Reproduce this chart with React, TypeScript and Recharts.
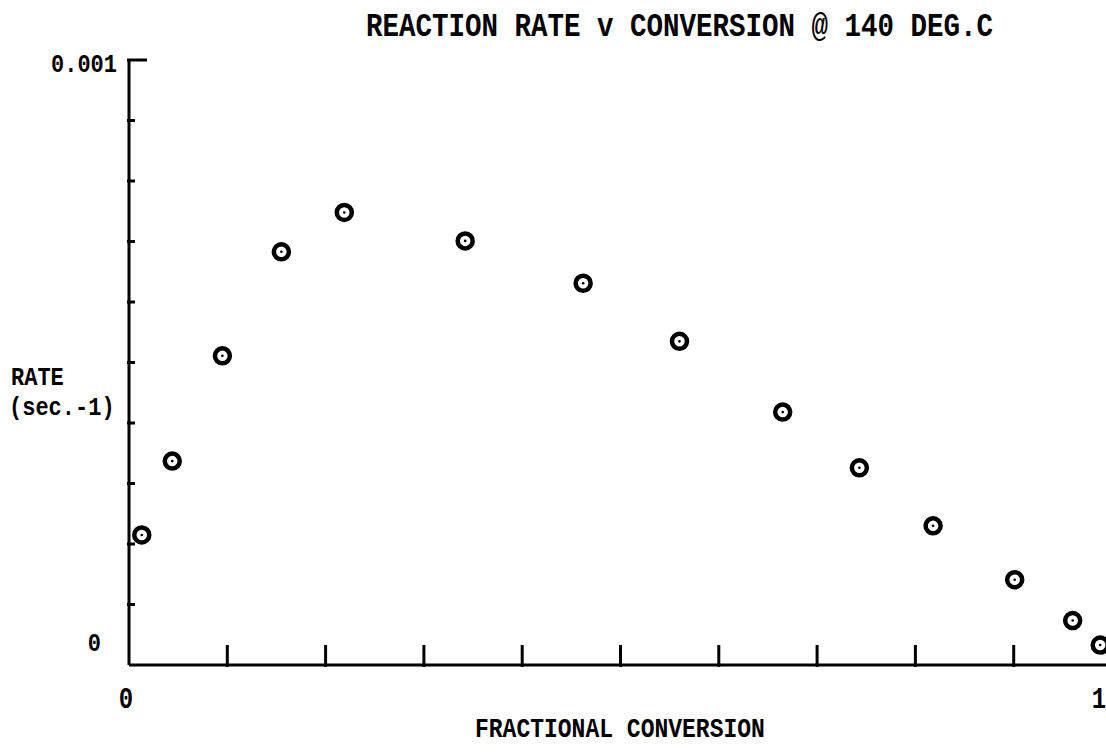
import { ScatterChart, Scatter, XAxis, YAxis } from "recharts";

const conversion = [0.013, 0.044, 0.095, 0.155, 0.219, 0.342, 0.462, 0.56, 0.665, 0.743, 0.818, 0.901, 0.960, 0.988];
const rate = [0.000215, 0.000337, 0.000511, 0.000683, 0.000748, 0.000701, 0.000631, 0.000535, 0.000418, 0.000326, 0.000230, 0.000141, 0.0000735, 0.000033];

const xTicks = [0, 0.1, 0.2, 0.3, 0.4, 0.5, 0.6, 0.7, 0.8, 0.9, 1];
const yTicks = [0, 0.0001, 0.0002, 0.0003, 0.0004, 0.0005, 0.0006, 0.0007, 0.0008, 0.0009, 0.001];
const xLabels: Record<string, string> = { "0": "0", "1": "1" };
const yLabels: Record<string, string> = { "0": "0", "0.001": "0.001" };

const data = conversion.map((c, i) => ({ c, r: rate[i] }));

const FONT = "'Liberation Mono', 'DejaVu Sans Mono', monospace";

const Marker = (props: any) => {
  const { cx, cy } = props;
  if (cx == null || cy == null) return null;
  return (
    <g>
      <circle cx={cx} cy={cy} r={7.5} fill="#fff" stroke="#000" strokeWidth={4.5} />
      <circle cx={cx} cy={cy} r={1.3} fill="#000" />
    </g>
  );
};

const XTick = (props: any) => {
  const { x, y, payload } = props;
  const v = payload.value;
  const label = xLabels[String(v)];
  // the "1" sits right at the page edge, pull it in a bit
  const lx = v === 1 ? x - 13 : x - 3;
  return (
    <g>
      {v > 0 && <line x1={x} y1={y} x2={x} y2={y - 22} stroke="#000" strokeWidth={3} />}
      {label && (
        <text
          x={lx}
          y={y + 41}
          textAnchor="middle"
          fontFamily={FONT}
          fontWeight="bold"
          fontSize={24}
          transform={`translate(0 ${-(y + 41) * 0.2}) scale(1 1.2)`}
        >
          {label}
        </text>
      )}
    </g>
  );
};

const YTick = (props: any) => {
  const { x, y, payload } = props;
  const v = payload.value;
  const label = yLabels[String(v)];
  const len = v === 0.001 ? 20 : 8;
  const ty = v === 0 ? y - 14 : y + 12;
  return (
    <g>
      {v > 0 && <line x1={x} y1={y} x2={x + len} y2={y} stroke="#000" strokeWidth={3} />}
      {label && (
        <text
          x={v === 0 ? x - 26 : x - 10}
          y={ty}
          textAnchor="end"
          fontFamily={FONT}
          fontWeight="bold"
          fontSize={22}
          transform={`translate(0 ${-ty * 0.2}) scale(1 1.2)`}
        >
          {label}
        </text>
      )}
    </g>
  );
};

const textStyle: React.CSSProperties = {
  position: "absolute",
  fontFamily: FONT,
  fontWeight: "bold",
  color: "#000",
  whiteSpace: "pre",
  lineHeight: 1,
  transform: "scaleY(1.2)",
  transformOrigin: "left top",
};

export default function App() {
  return (
    <div style={{ position: "fixed", left: 0, top: 0, width: 1106, height: 753, overflow: "hidden", background: "#fff" }}>
      <ScatterChart width={1130} height={753} margin={{ top: 60, right: 18, bottom: 87, left: 128 }}>
        <XAxis
          type="number"
          dataKey="c"
          domain={[0, 1]}
          ticks={xTicks}
          height={1}
          tickSize={0}
          tickLine={false}
          axisLine={{ stroke: "#000", strokeWidth: 3 }}
          tick={<XTick />}
          interval={0}
        />
        <YAxis
          type="number"
          dataKey="r"
          domain={[0, 0.001]}
          ticks={yTicks}
          width={1}
          tickSize={0}
          tickLine={false}
          axisLine={{ stroke: "#000", strokeWidth: 3 }}
          tick={<YTick />}
          interval={0}
        />
        <Scatter data={data} shape={<Marker />} isAnimationActive={false} />
      </ScatterChart>
      <div style={{ ...textStyle, left: 366, top: 11, fontSize: 27.5 }}>REACTION RATE v CONVERSION @ 140 DEG.C</div>
      <div style={{ ...textStyle, left: 11, top: 366, fontSize: 22 }}>RATE</div>
      <div style={{ ...textStyle, left: 9, top: 396, fontSize: 22 }}>(sec.-1)</div>
      <div style={{ ...textStyle, left: 475, top: 717, fontSize: 23 }}>FRACTIONAL CONVERSION</div>
    </div>
  );
}
